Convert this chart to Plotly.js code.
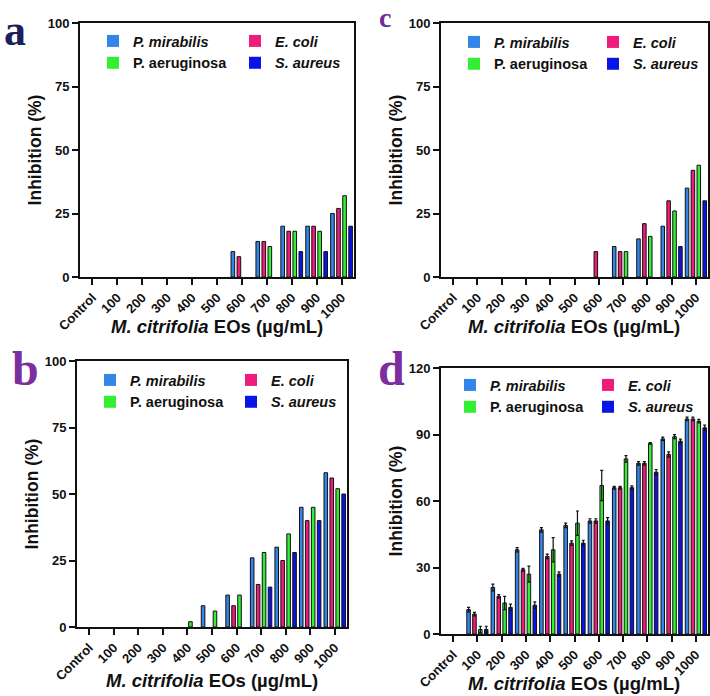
<!DOCTYPE html>
<html>
<head>
<meta charset="utf-8">
<script src="https://cdn.plot.ly/plotly-3.0.1.min.js"></script>
<style>html,body{margin:0;padding:0;background:#fff;}#chart{width:710px;height:696px;}</style>
</head>
<body>
<div id="chart"></div>
<script>
// ---- data ----
const categories = ['Control','100','200','300','400','500','600','700','800','900','1000'];
const seriesNames = ['<i>P. mirabilis</i>', '<i>E. coli</i>', 'P. aeruginosa', '<i>S. aureus</i>'];
const xTitle = '<i>M. citrifolia</i> EOs (µg/mL)';
const yTitle = 'Inhibition (%)';

// panel a
const aPM = [0,0,0,0,0,0,10,14,20,20,25];
const aEC = [0,0,0,0,0,0,8,14,18,20,27];
const aPA = [0,0,0,0,0,0,0,12,18,18,32];
const aSA = [0,0,0,0,0,0,0,0,10,10,20];
// panel b
const bPM = [0,0,0,0,0,8,12,26,30,45,58];
const bEC = [0,0,0,0,0,0,8,16,25,40,56];
const bPA = [0,0,0,0,2,6,12,28,35,45,52];
const bSA = [0,0,0,0,0,0,0,15,28,40,50];
// panel c
const cPM = [0,0,0,0,0,0,0,12,15,20,35];
const cEC = [0,0,0,0,0,0,10,10,21,30,42];
const cPA = [0,0,0,0,0,0,0,10,16,26,44];
const cSA = [0,0,0,0,0,0,0,0,0,12,30];
// panel d (mean and SD)
const dPM = [0,11,21,38,47,49,51,66,77,88,97];
const dEC = [0,9,17,29,35,41,51,66,77,81,97];
const dPA = [0,2,14,27,38,50,67,79,86,89,96];
const dSA = [0,2,12,13,27,41,51,66,73,87,93];
const dPMsd = [0,1,1.5,1,1,1,1,0.6,0.8,0.8,0.8];
const dECsd = [0,0.8,0.8,0.6,1,1,1,0.6,0.8,1.2,0.8];
const dPAsd = [0,1.5,3,3.6,5.5,5.5,6.8,1.5,0.4,0.9,0.8];
const dSAsd = [0,1.5,1.5,1.5,1,1.3,1.5,0.8,1.2,0.9,1.2];

const colors = ['#3385e8', '#ee1c7a', '#33ee33', '#0a14e6'];
const FONT = 'Liberation Sans, Arial, sans-serif';

const traces = [];
function addPanel(vals, sds, xa, ya, legCol1, legCol2) {
  const legs = [legCol1, legCol2, legCol1, legCol2];
  vals.forEach((v, i) => {
    const t = {
      type: 'bar', x: categories, y: v, name: seriesNames[i],
      xaxis: xa, yaxis: ya, legend: legs[i],
      marker: {color: colors[i], line: {color: '#111', width: v.map(val => val > 0 ? 1 : 0)}},
      hoverinfo: 'x+y+name'
    };
    if (sds) {
      t.error_y = {type: 'data', array: sds[i].map((s, k) => v[k] > 0 ? s : NaN), visible: true, color: '#111', thickness: 1.2, width: 1.5};
    }
    traces.push(t);
  });
}
addPanel([aPM, aEC, aPA, aSA], null, 'x', 'y', 'legend', 'legend2');
addPanel([cPM, cEC, cPA, cSA], null, 'x2', 'y2', 'legend3', 'legend4');
addPanel([bPM, bEC, bPA, bSA], null, 'x3', 'y3', 'legend5', 'legend6');
addPanel([dPM, dEC, dPA, dSA], [dPMsd, dECsd, dPAsd, dSAsd], 'x4', 'y4', 'legend7', 'legend8');

function xAxis(domain, anchor) {
  return {
    domain: domain, anchor: anchor, type: 'category', range: [-0.5, 10.5],
    showline: true, linewidth: 2, linecolor: '#111', mirror: true,
    ticks: 'outside', ticklen: 6, tickwidth: 2, tickcolor: '#111',
    tickangle: -45, showgrid: false, zeroline: false,
    tickfont: {family: FONT, size: 13, color: '#111', weight: 'bold'},
    title: {text: ''}
  };
}
function yAxis(domain, anchor, max, dt) {
  return {
    domain: domain, anchor: anchor, range: [0, max], dtick: dt, tick0: 0,
    showline: true, linewidth: 2, linecolor: '#111', mirror: true,
    ticks: 'outside', ticklen: 6, tickwidth: 2, tickcolor: '#111',
    showgrid: false, zeroline: false,
    tickfont: {family: FONT, size: 13, color: '#111', weight: 'bold'},
    title: {text: yTitle, font: {family: FONT, size: 17.5, color: '#111', weight: 'bold'}, standoff: 2}
  };
}
function leg(x, y) {
  return {x: x, y: y, xanchor: 'left', yanchor: 'top', orientation: 'v',
    bgcolor: 'rgba(0,0,0,0)', borderwidth: 0, traceorder: 'normal',
    font: {family: FONT, size: 14.5, color: '#111', weight: 'bold'}};
}
function xTitleAnn(cx, cy) {
  return {text: xTitle, xref: 'paper', yref: 'paper', x: cx / W, y: 1 - cy / H,
    xanchor: 'center', yanchor: 'middle', showarrow: false,
    font: {family: FONT, size: 18.5, color: '#111', weight: 'bold'}};
}
function letter(t, x, cy, size, color) {
  return {text: t, xref: 'paper', yref: 'paper', x: x / W, y: 1 - cy / H, xanchor: 'left', yanchor: 'middle',
    showarrow: false, font: {family: 'Liberation Serif, Times New Roman, serif', size: size, color: color, weight: 'bold'}};
}

const W = 710, H = 696;
const px = (a, b) => [a / W, b / W];
const py = (top, bottom) => [1 - bottom / H, 1 - top / H];

const layout = {
  width: W, height: H,
  margin: {l: 0, r: 0, t: 0, b: 0},
  paper_bgcolor: '#fff', plot_bgcolor: '#fff',
  barmode: 'group', bargap: 0.03, bargroupgap: 0.4,
  xaxis: xAxis(px(80, 354), 'y'),
  yaxis: yAxis(py(23, 277), 'x', 100, 25),
  xaxis2: xAxis(px(441, 708), 'y2'),
  yaxis2: yAxis(py(23, 277), 'x2', 100, 25),
  xaxis3: xAxis(px(77, 347), 'y3'),
  yaxis3: yAxis(py(361, 627), 'x3', 100, 25),
  xaxis4: xAxis(px(441, 708), 'y4'),
  yaxis4: yAxis(py(368, 634), 'x4', 120, 30),
  legend: leg(93 / W, 1 - 25 / H),
  legend2: leg(235 / W, 1 - 25 / H),
  legend3: leg(454 / W, 1 - 26 / H),
  legend4: leg(593 / W, 1 - 26 / H),
  legend5: leg(90 / W, 1 - 364 / H),
  legend6: leg(231 / W, 1 - 364 / H),
  legend7: leg(450 / W, 1 - 369 / H),
  legend8: leg(588 / W, 1 - 369 / H),
  annotations: [
    xTitleAnn(217, 326),
    xTitleAnn(574, 326),
    xTitleAnn(212, 680),
    xTitleAnn(574, 683),
    letter('a', 2, 30, 44, '#1b1f5c'),
    letter('c', 377, 18, 28, '#6e2c9e'),
    letter('b', 10, 368, 48, '#7b2ea0'),
    letter('d', 376, 368, 48, '#7b2ea0')
  ]
};

Plotly.newPlot('chart', traces, layout, {displayModeBar: false, staticPlot: true});
</script>
</body>
</html>
